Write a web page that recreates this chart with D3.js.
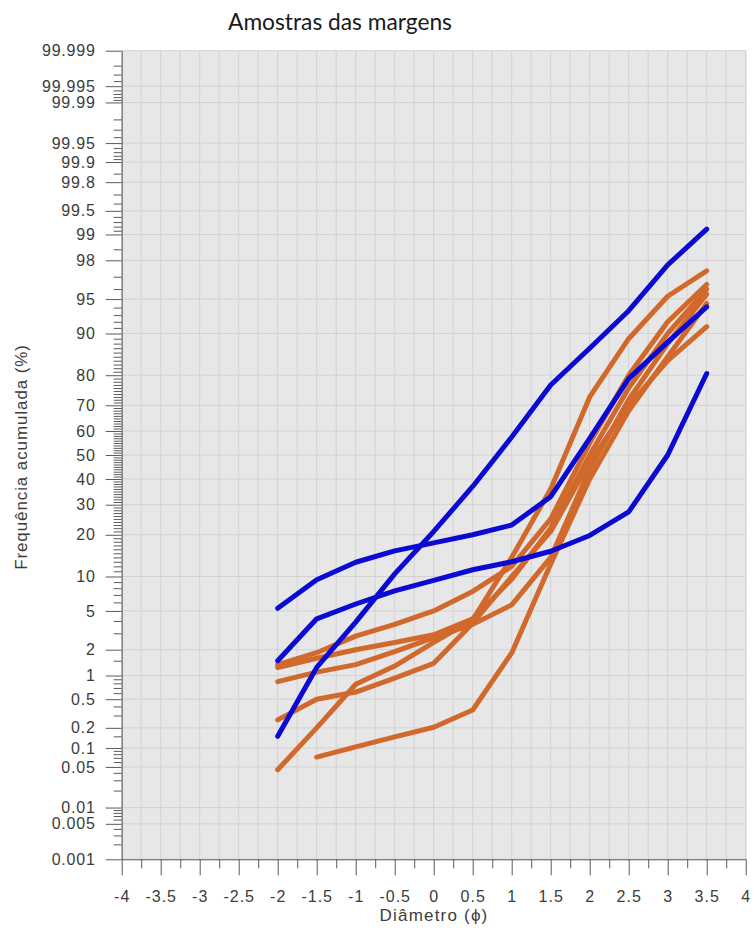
<!DOCTYPE html>
<html>
<head>
<meta charset="utf-8">
<script src="https://cdn.jsdelivr.net/npm/d3@7/dist/d3.min.js"></script>
<style>
  html, body { margin: 0; padding: 0; background: #ffffff; }
  svg { display: block; }
  .axis text { font-family: "Liberation Sans", Arial, sans-serif; fill: #3c3c3c; }
  .axis path, .axis line { stroke: #5a5a5a; }
</style>
</head>
<body>
<svg id="chart" width="753" height="931"></svg>
<script>
// Grain size classes (phi) shared by every curve
const diameters = [-2, -1.5, -1, -0.5, 0, 0.5, 1, 1.5, 2, 2.5, 3, 3.5];

// Cumulative frequency (%) for each sample
const blueA = [0.15, 1.25, 3.9, 10.5, 21, 37, 57.5, 77, 87, 93.6, 97.75, 99.14];
const blueB = [1.5, 4.2, 5.8, 7.6, 9.3, 11.3, 13, 15.5, 19.8, 27.4, 50, 80.5];
const blueC = [5.3, 9.4, 12.9, 15.6, 17.7, 20, 23, 33, 57, 79, 88.3, 94.1];

const orange1 = [1.35, 1.85, 2.8, 3.7, 5.0, 7.5, 12, 25, 55, 80, 92, 96.4];
const orange2 = [1.25, 1.6, 2.0, 2.4, 2.9, 4.2, 9.5, 22, 50, 76, 90, 96];
const orange3 = [0.84, 1.1, 1.35, 1.9, 2.7, 3.7, 5.7, 14, 44, 72, 88, 95.5];
const orange4 = [0.26, 0.5, 0.62, 0.93, 1.4, 3.8, 10, 21, 47, 70, 84, 91.2];
const orange5 = [0.045, 0.2, 0.78, 1.3, 2.4, 4.1, 14, 36, 73, 89, 95.3, 97.4];
const orange6 = [null, 0.072, 0.104, 0.147, 0.204, 0.357, 1.84, 12.5, 40, 68, 85, 94.5];

// Probability axis labels and minor ticks (%)
const yMajor = [0.001, 0.005, 0.01, 0.05, 0.1, 0.2, 0.5, 1, 2, 5, 10, 20, 30, 40, 50, 60, 70, 80, 90, 95, 98, 99, 99.5, 99.8, 99.9, 99.95, 99.99, 99.995, 99.999];
const yMajorLabels = ["0.001", "0.005", "0.01", "0.05", "0.1", "0.2", "0.5", "1", "2", "5", "10", "20", "30", "40", "50", "60", "70", "80", "90", "95", "98", "99", "99.5", "99.8", "99.9", "99.95", "99.99", "99.995", "99.999"];
const yMinor = [0.002, 0.003, 0.004, 0.006, 0.007, 0.008, 0.009, 0.02, 0.03, 0.04, 0.06, 0.07, 0.08, 0.09,
  0.15, 0.3, 0.4, 0.6, 0.7, 0.8, 0.9, 1.5, 3, 4, 6, 7, 8, 9,
  11, 12, 13, 14, 15, 16, 17, 18, 19, 21, 22, 23, 24, 25, 26, 27, 28, 29,
  31, 32, 33, 34, 35, 36, 37, 38, 39, 41, 42, 43, 44, 45, 46, 47, 48, 49,
  51, 52, 53, 54, 55, 56, 57, 58, 59, 61, 62, 63, 64, 65, 66, 67, 68, 69,
  71, 72, 73, 74, 75, 76, 77, 78, 79, 81, 82, 83, 84, 85, 86, 87, 88, 89,
  91, 92, 93, 94, 96, 97, 98.5, 99.1, 99.2, 99.3, 99.4, 99.6, 99.7, 99.85,
  99.91, 99.92, 99.93, 99.94, 99.96, 99.97, 99.98, 99.991, 99.992, 99.993, 99.994,
  99.996, 99.997, 99.998];

// Phi axis ticks
const xMajor = [-4, -3.5, -3, -2.5, -2, -1.5, -1, -0.5, 0, 0.5, 1, 1.5, 2, 2.5, 3, 3.5, 4];
const xMinor = [-3.75, -3.25, -2.75, -2.25, -1.75, -1.25, -0.75, -0.25, 0.25, 0.75, 1.25, 1.75, 2.25, 2.75, 3.25, 3.75];

const blueColor = "#0a0ad2";
const orangeColor = "#d0692b";

// Inverse standard normal CDF (Acklam's rational approximation)
function probit(p) {
  const a = [-3.969683028665376e+01, 2.209460984245205e+02, -2.759285104469687e+02, 1.383577518672690e+02, -3.066479806614716e+01, 2.506628277459239e+00];
  const b = [-5.447609879822406e+01, 1.615858368580409e+02, -1.556989798598866e+02, 6.680131188771972e+01, -1.328068155288572e+01];
  const c = [-7.784894002430293e-03, -3.223964580411365e-01, -2.400758277161838e+00, -2.549671010366014e+00, 4.374664141464968e+00, 2.938163982698783e+00];
  const d = [7.784695709041462e-03, 3.224671290700398e-01, 2.445134137142996e+00, 3.754408661907416e+00];
  const pl = 0.02425, ph = 1 - pl;
  let q, r;
  if (p < pl) {
    q = Math.sqrt(-2 * Math.log(p));
    return (((((c[0]*q+c[1])*q+c[2])*q+c[3])*q+c[4])*q+c[5]) / ((((d[0]*q+d[1])*q+d[2])*q+d[3])*q+1);
  } else if (p <= ph) {
    q = p - 0.5; r = q * q;
    return (((((a[0]*r+a[1])*r+a[2])*r+a[3])*r+a[4])*r+a[5])*q / (((((b[0]*r+b[1])*r+b[2])*r+b[3])*r+b[4])*r+1);
  } else {
    q = Math.sqrt(-2 * Math.log(1 - p));
    return -(((((c[0]*q+c[1])*q+c[2])*q+c[3])*q+c[4])*q+c[5]) / ((((d[0]*q+d[1])*q+d[2])*q+d[3])*q+1);
  }
}
const z = pct => probit(pct / 100);

const plot = { left: 121.7, right: 745.7, top: 50.7, bottom: 859.3 };

const svg = d3.select("#chart");

const x = d3.scaleLinear().domain([-4, 4]).range([plot.left, plot.right]);
const y = d3.scaleLinear().domain([z(0.001), z(99.999)]).range([plot.bottom, plot.top]);

// Plot background
svg.append("rect")
  .attr("x", plot.left).attr("y", plot.top)
  .attr("width", plot.right - plot.left + 1).attr("height", plot.bottom - plot.top)
  .attr("fill", "#e7e7e7");

// Grid
const grid = svg.append("g").attr("stroke", "#d2d2d2").attr("stroke-width", 1);
grid.selectAll("line.v").data(xMajor.concat(xMinor)).join("line")
  .attr("x1", d => x(d)).attr("x2", d => x(d))
  .attr("y1", plot.top).attr("y2", plot.bottom);
grid.selectAll("line.h").data(yMajor).join("line")
  .attr("x1", plot.left).attr("x2", plot.right)
  .attr("y1", d => y(z(d))).attr("y2", d => y(z(d)));

// Curves
const line = d3.line()
  .defined(d => d[1] != null)
  .x(d => x(d[0]))
  .y(d => y(z(d[1])));

const series = [
  { values: orange1, color: orangeColor },
  { values: orange2, color: orangeColor },
  { values: orange3, color: orangeColor },
  { values: orange4, color: orangeColor },
  { values: orange5, color: orangeColor },
  { values: orange6, color: orangeColor },
  { values: blueA, color: blueColor },
  { values: blueB, color: blueColor },
  { values: blueC, color: blueColor }
];

svg.append("g").selectAll("path").data(series).join("path")
  .attr("d", s => line(diameters.map((dv, i) => [dv, s.values[i]])))
  .attr("fill", "none")
  .attr("stroke", s => s.color)
  .attr("stroke-width", 5)
  .attr("stroke-linecap", "round")
  .attr("stroke-linejoin", "round");

// Y axis (probability scale)
const yAxis = d3.axisLeft(y)
  .tickValues(yMajor.map(z))
  .tickFormat((d, i) => yMajorLabels[i])
  .tickSize(16).tickPadding(10).tickSizeOuter(0);
const gy = svg.append("g").attr("class", "axis")
  .attr("transform", `translate(${plot.left},0)`)
  .call(yAxis);
gy.selectAll("text").attr("font-size", 16).attr("letter-spacing", "0.8px");
svg.append("g").attr("class", "axis")
  .attr("transform", `translate(${plot.left},0)`)
  .call(d3.axisLeft(y).tickValues(yMinor.map(z)).tickFormat("").tickSize(8).tickSizeOuter(0))
  .select(".domain").remove();

// X axis
const xAxis = d3.axisBottom(x)
  .tickValues(xMajor)
  .tickFormat(d3.format("~g"))
  .tickSize(16).tickPadding(15).tickSizeOuter(0);
const gx = svg.append("g").attr("class", "axis")
  .attr("transform", `translate(0,${plot.bottom})`)
  .call(xAxis);
gx.selectAll("text").attr("font-size", 16).attr("letter-spacing", "1px")
  .text(d => (d < 0 ? "-" : "") + Math.abs(d));
svg.append("g").attr("class", "axis")
  .attr("transform", `translate(0,${plot.bottom})`)
  .call(d3.axisBottom(x).tickValues(xMinor).tickFormat("").tickSize(9).tickSizeOuter(0))
  .select(".domain").remove();

// Axis titles
svg.append("text")
  .attr("x", 434).attr("y", 921)
  .attr("text-anchor", "middle")
  .attr("font-family", "Liberation Sans, Arial, sans-serif")
  .attr("font-size", 17).attr("letter-spacing", "1.2px").attr("fill", "#3c3c3c")
  .text("Diâmetro (ϕ)");

svg.append("text")
  .attr("transform", "translate(27,457) rotate(-90)")
  .attr("text-anchor", "middle")
  .attr("font-family", "Liberation Sans, Arial, sans-serif")
  .attr("font-size", 17).attr("letter-spacing", "0.9px").attr("fill", "#3c3c3c")
  .text("Frequência acumulada (%)");

// Chart title
const title = svg.append("text")
  .attr("x", 340).attr("y", 30)
  .attr("text-anchor", "middle")
  .attr("font-family", "Lato, 'Open Sans', sans-serif")
  .attr("font-size", 20).attr("fill", "#1a1a1a")
  .text("Amostras das margens");
const tw = title.node().getComputedTextLength();
title.attr("font-size", 20 * 224 / tw);
</script>
</body>
</html>
